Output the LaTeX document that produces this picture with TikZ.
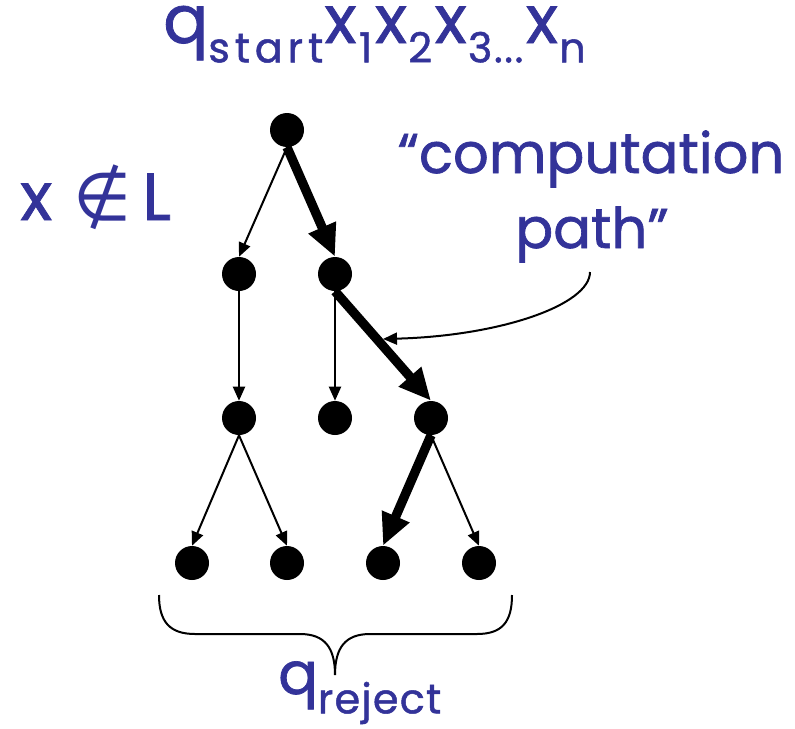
\documentclass[tikz,border=0pt]{standalone}
\usepackage{fontspec}
\setmainfont{Poppins}[FakeBold=1.2]
\newfontfamily\symfont{DejaVu Sans}
\usetikzlibrary{arrows.meta}
\definecolor{ink}{RGB}{51,51,153}
% lowered, smaller and more loosely set text for indices
\newcommand{\lowtext}[2][12]{\raisebox{-14.5pt}{\fontsize{31}{33}\selectfont\addfontfeature{LetterSpace=#1}#2}}
\begin{document}
\begin{tikzpicture}[x=0.75pt,y=-0.75pt,
  state/.style={circle,fill=black,minimum size=25.5pt,inner sep=0pt},
  thinedge/.style={line width=1.5pt,-{Triangle[length=10.5pt,width=9pt]}},
  thickedge/.style={line width=7pt,-{Triangle[length=24pt,width=21pt]}},
  label/.style={text=ink,inner sep=0pt,font=\fontsize{42}{48}\selectfont}]
\useasboundingbox (0,0) rectangle (795,728);

% tree of configurations
\node[state] (r)  at (287,130) {};
\node[state] (a)  at (239,274) {};
\node[state] (b)  at (335,274) {};
\node[state] (c)  at (239,418) {};
\node[state] (d)  at (335,418) {};
\node[state] (e)  at (431,418) {};
\node[state] (l1) at (192,563) {};
\node[state] (l2) at (287,563) {};
\node[state] (l3) at (383,563) {};
\node[state] (l4) at (479,563) {};

\draw[thinedge]  (r.south) -- (a.north);
\draw[thickedge] (r.south) -- (b.north);
\draw[thinedge]  (a.south) -- (c.north);
\draw[thinedge]  (b.south) -- (d.north);
\draw[thickedge] (b.south) -- (e.north);
\draw[thinedge]  (c.south) -- (l1.north);
\draw[thinedge]  (c.south) -- (l2.north);
\draw[thickedge] (e.south) -- (l3.north);
\draw[thinedge]  (e.south) -- (l4.north);

% labels
\node[label,anchor=base west,font=\fontsize{50}{54}\selectfont] (input) at (163,43)
  {q\lowtext{start}\hspace{1pt}x\hspace{2pt}\lowtext[4]{1}\hspace{2pt}x\hspace{1pt}\lowtext[4]{2}\hspace{2pt}x\hspace{1pt}\lowtext[4]{3...}\hspace{2pt}x\hspace{1pt}\lowtext[0]{n}};
\node[label,anchor=base west,font=\fontsize{50}{54}\selectfont] (notin) at (20,220)
  {x\hspace{0.32em}{\symfont\fontsize{50}{54}\selectfont ∉}\hspace{0.16em}L};
\node[label,anchor=base] (cp1) at (591,173) {“computation};
\node[label,anchor=base] (cp2) at (592,248) {path”};
\coordinate (cpfoot) at (590,272);
\coordinate (pathmark) at (383,339);
\draw[line width=1.5pt,-{Triangle[length=10.5pt,width=9pt]}]
  (cpfoot) .. controls (590,305) and (500,336) .. (pathmark);

% brace over the rejecting leaves
\draw[line width=1.5pt]
  (159,595) .. controls (159,622) and (170,634) .. (195,634) -- (300,634)
  .. controls (325,634) and (335,648) .. (335,675)
  .. controls (335,648) and (345,634) .. (370,634) -- (477,634)
  .. controls (502,634) and (512,622) .. (512,595);
\node[label,anchor=base west,font=\fontsize{44}{48}\selectfont] (rej) at (278,694) {q\lowtext[3]{reject}};
\end{tikzpicture}
\end{document}
